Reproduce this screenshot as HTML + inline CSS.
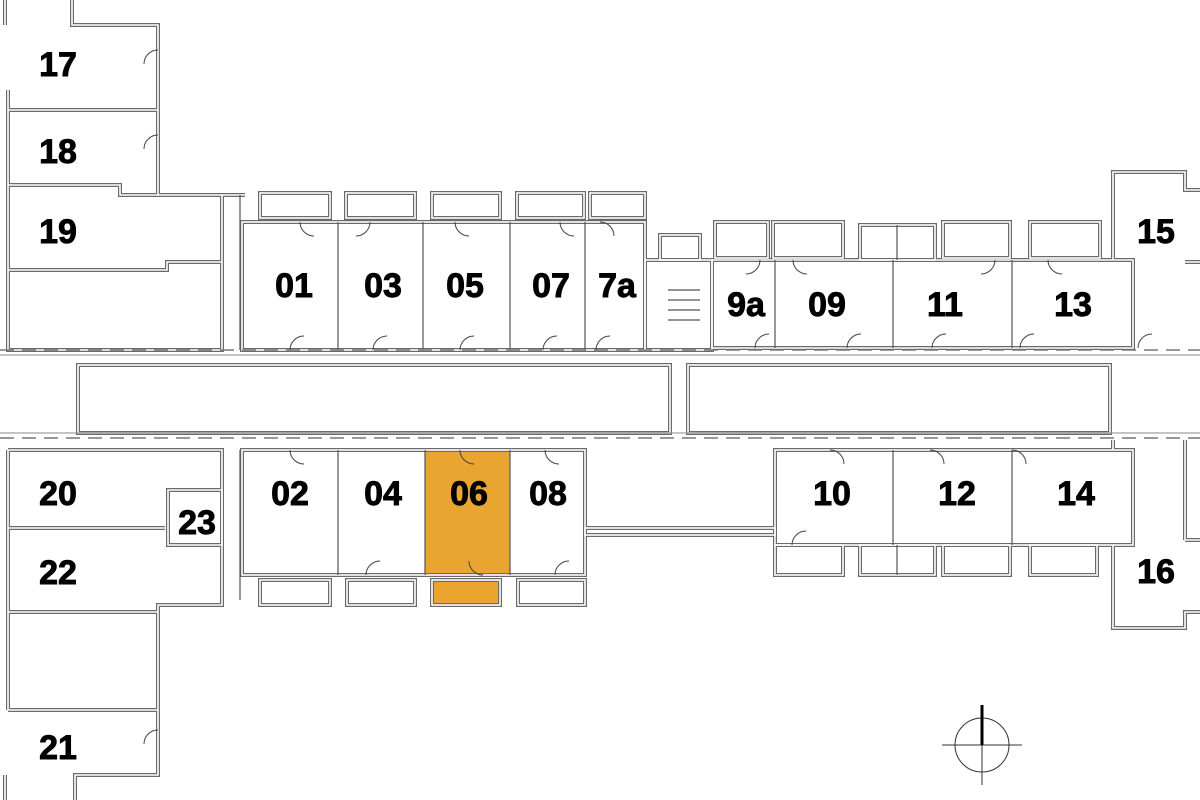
<!DOCTYPE html>
<html><head><meta charset="utf-8"><style>
html,body{margin:0;padding:0;background:#fff;width:1200px;height:800px;overflow:hidden}
svg{display:block}
.t{fill:none;stroke:#555;stroke-width:1.2}
.d{fill:none;stroke:#777;stroke-width:1.5;stroke-dasharray:14 8}
text{font-family:"Liberation Sans",sans-serif;font-weight:bold;font-size:34px;fill:#000;stroke:#000;stroke-width:0.9;text-anchor:middle}
</style></head><body>
<svg width="1200" height="800" viewBox="0 0 1200 800">
<defs>
<g id="walls" fill="none">
<path d="M5 25 V0 M72 0 V25 H158 V195 H245 M8 90 V350 H222 V195"/>
<path d="M8 110 H158 M8 185 H120 V195 H158"/>
<path d="M8 270 H167 V262 H222"/>
<rect x="242" y="222" width="403" height="128"/>
<rect x="260" y="193" width="70" height="25"/><rect x="346" y="193" width="69" height="25"/>
<rect x="432" y="193" width="68" height="25"/><rect x="517" y="193" width="67" height="25"/>
<rect x="590" y="193" width="55" height="25"/>
<rect x="645" y="260" width="67" height="90"/><rect x="660" y="235" width="40" height="25"/>
<path d="M712 260 H1133 V348 H712 Z"/>
<rect x="715" y="222" width="53" height="36"/><rect x="773" y="222" width="70" height="36"/>
<rect x="860" y="225" width="75" height="35"/>
<rect x="943" y="222" width="67" height="36"/><rect x="1030" y="222" width="70" height="36"/>
<path d="M1113 260 V172 H1185 V190 H1200 M1185 262 H1200"/>
<rect x="78" y="365" width="592" height="68"/><rect x="688" y="365" width="422" height="68"/>
<path d="M8 450 H222 V605 H158 V775 H75 V800 M5 800 V775 M8 450 V710"/>
<path d="M8 528 H165 M168 490 H222 V545 H168 Z M8 612 H158 M8 710 H158"/>
<rect x="242" y="450" width="343" height="125"/>
<rect x="260" y="580" width="70" height="25"/><rect x="347" y="580" width="68" height="25"/>
<rect x="432" y="580" width="68" height="25"/><rect x="518" y="580" width="67" height="25"/>
<rect x="585" y="528" width="190" height="7"/>
<rect x="775" y="450" width="358" height="95"/>
<rect x="775" y="545" width="68" height="30"/><rect x="860" y="545" width="75" height="30"/>
<rect x="943" y="545" width="67" height="30"/><rect x="1030" y="545" width="67" height="30"/>
<path d="M1113 545 V628 H1185 V612 H1200 M1185 540 H1200"/>
<path d="M1113 440 V450 M1185 440 V540"/>
</g>
</defs>
<rect x="425" y="450" width="85" height="125" fill="#E8A530"/>
<rect x="432" y="580" width="68" height="25" fill="#E8A530"/>
<use href="#walls" stroke="#6a6a6a" stroke-width="4" fill="none"/>
<use href="#walls" stroke="#ffffff" stroke-width="1.6" fill="none"/>
<g class="t">
<path d="M338 222 V350 M423 222 V350 M510 222 V350 M585 222 V350 M775 260 V348 M893 260 V348 M1012 260 V348"/>
<path d="M338 450 V575 M425 450 V575 M510 450 V575 M893 450 V545 M1012 450 V545 M897 225 V260 M897 545 V575"/>
<path d="M240 195 V350 M240 450 V600"/>
<path d="M668 290 H700 M668 300 H700 M668 310 H700 M668 320 H700"/>
</g>
<path class="d" d="M0 350 H1200 M0 438 H1200"/>
<path d="M0 355 H1200 M0 433 H1200" stroke="#888" stroke-width="1"/>
<g fill="none" stroke="#444" stroke-width="1">
<path d="M300 222 A14 14 0 0 0 314 236 M370 222 A14 14 0 0 1 356 236 M455 222 A14 14 0 0 0 469 236 M560 222 A14 14 0 0 0 574 236 M600 222 A14 14 0 0 1 614 236"/>
<path d="M290 350 A14 14 0 0 1 304 336 M373 350 A14 14 0 0 1 387 336 M460 350 A14 14 0 0 1 474 336 M543 350 A14 14 0 0 1 557 336 M596 350 A14 14 0 0 1 610 336"/>
<path d="M290 450 A14 14 0 0 0 304 464 M460 450 A14 14 0 0 0 474 464 M545 450 A14 14 0 0 0 559 464 M830 450 A14 14 0 0 1 844 464 M930 450 A14 14 0 0 1 944 464 M1012 450 A14 14 0 0 1 1026 464"/>
<path d="M792 545 A14 14 0 0 1 806 531 M366 575 A14 14 0 0 1 380 561 M483 575 A14 14 0 0 1 469 561 M555 575 A14 14 0 0 1 569 561"/>
<path d="M760 260 A14 14 0 0 1 746 274 M793 260 A14 14 0 0 0 807 274 M995 260 A14 14 0 0 1 981 274 M1048 260 A14 14 0 0 0 1062 274"/>
<path d="M755 348 A14 14 0 0 1 769 334 M847 348 A14 14 0 0 1 861 334 M932 348 A14 14 0 0 1 946 334 M1020 348 A14 14 0 0 1 1034 334 M1138 348 A14 14 0 0 1 1152 334"/>
<path d="M158 50 A14 14 0 0 0 144 64 M158 135 A14 14 0 0 0 144 149 M158 730 A14 14 0 0 0 144 744"/>
</g>
<text x="58" y="76">17</text><text x="58" y="163">18</text><text x="58" y="243">19</text>
<text x="294" y="297">01</text><text x="383" y="297">03</text><text x="465" y="297">05</text><text x="551" y="297">07</text><text x="617" y="297">7a</text>
<text x="746" y="316">9a</text><text x="827" y="316">09</text><text x="945" y="316">11</text><text x="1073" y="316">13</text><text x="1156" y="243">15</text>
<text x="58" y="505">20</text><text x="197" y="534">23</text><text x="58" y="584">22</text><text x="58" y="759">21</text>
<text x="290" y="505">02</text><text x="383" y="505">04</text><text x="469" y="505">06</text><text x="548" y="505">08</text>
<text x="832" y="505">10</text><text x="957" y="505">12</text><text x="1076" y="505">14</text><text x="1156" y="583">16</text>
<g fill="none" stroke="#333" stroke-width="1">
<circle cx="982" cy="745" r="27"/><path d="M942 745 H1022 M982 705 V785"/>
</g>
<path d="M982 705 V745" stroke="#000" stroke-width="3"/>
</svg>
</body></html>
